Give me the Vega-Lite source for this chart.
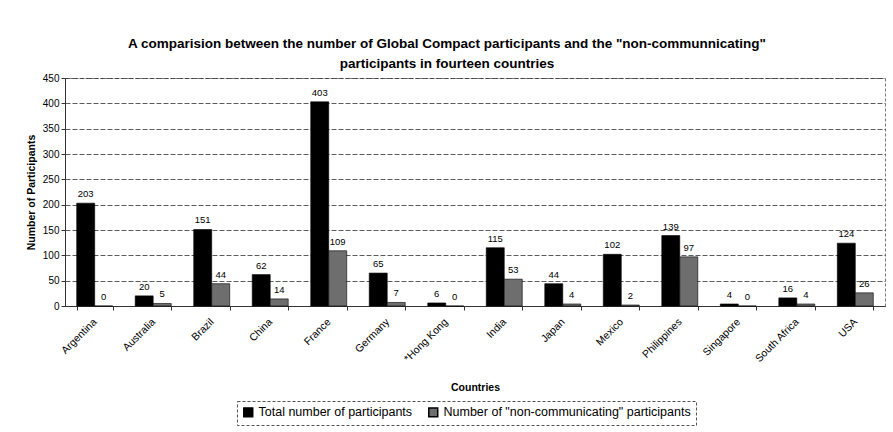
{
  "$schema": "https://vega.github.io/schema/vega-lite/v6.json",
  "width": 820,
  "height": 228,
  "autosize": {"type": "none"},
  "padding": {"left": 65, "top": 78, "right": 8, "bottom": 126},
  "background": "white",
  "config": {
    "font": "Liberation Sans",
    "view": {"stroke": "#777", "strokeDash": [3, 2]}
  },
  "title": {
    "text": ["A comparision between the number of Global Compact participants and the \"non-communnicating\"", "participants in fourteen countries"],
    "fontSize": 13.5,
    "fontWeight": "bold",
    "anchor": "middle",
    "dx": -28,
    "offset": 3,
    "lineHeight": 20,
    "color": "black"
  },
  "data": {
    "values": [
      {"country": "Argentina", "series": "Total number of participants", "value": 203},
      {"country": "Argentina", "series": "Number of \"non-communicating\" participants", "value": 0},
      {"country": "Australia", "series": "Total number of participants", "value": 20},
      {"country": "Australia", "series": "Number of \"non-communicating\" participants", "value": 5},
      {"country": "Brazil", "series": "Total number of participants", "value": 151},
      {"country": "Brazil", "series": "Number of \"non-communicating\" participants", "value": 44},
      {"country": "China", "series": "Total number of participants", "value": 62},
      {"country": "China", "series": "Number of \"non-communicating\" participants", "value": 14},
      {"country": "France", "series": "Total number of participants", "value": 403},
      {"country": "France", "series": "Number of \"non-communicating\" participants", "value": 109},
      {"country": "Germany", "series": "Total number of participants", "value": 65},
      {"country": "Germany", "series": "Number of \"non-communicating\" participants", "value": 7},
      {"country": "*Hong Kong", "series": "Total number of participants", "value": 6},
      {"country": "*Hong Kong", "series": "Number of \"non-communicating\" participants", "value": 0},
      {"country": "India", "series": "Total number of participants", "value": 115},
      {"country": "India", "series": "Number of \"non-communicating\" participants", "value": 53},
      {"country": "Japan", "series": "Total number of participants", "value": 44},
      {"country": "Japan", "series": "Number of \"non-communicating\" participants", "value": 4},
      {"country": "Mexico", "series": "Total number of participants", "value": 102},
      {"country": "Mexico", "series": "Number of \"non-communicating\" participants", "value": 2},
      {"country": "Philippines", "series": "Total number of participants", "value": 139},
      {"country": "Philippines", "series": "Number of \"non-communicating\" participants", "value": 97},
      {"country": "Singapore", "series": "Total number of participants", "value": 4},
      {"country": "Singapore", "series": "Number of \"non-communicating\" participants", "value": 0},
      {"country": "South Africa", "series": "Total number of participants", "value": 16},
      {"country": "South Africa", "series": "Number of \"non-communicating\" participants", "value": 4},
      {"country": "USA", "series": "Total number of participants", "value": 124},
      {"country": "USA", "series": "Number of \"non-communicating\" participants", "value": 26}
    ]
  },
  "encoding": {
    "x": {
      "field": "country",
      "type": "nominal",
      "sort": null,
      "scale": {"paddingInner": 0.385},
      "axis": {
        "title": "Countries",
        "titleFontSize": 10.5,
        "titleFontWeight": "bold",
        "titleColor": "black",
        "titleY": 76,
        "labelAngle": -45,
        "labelAlign": "right",
        "labelBaseline": "middle",
        "labelFontSize": 10.5,
        "labelColor": "black",
        "labelPadding": 10,
        "tickBand": "extent",
        "tickColor": "#333",
        "tickSize": 4,
        "domainColor": "#333"
      }
    },
    "xOffset": {
      "field": "series",
      "type": "nominal",
      "sort": ["Total number of participants", "Number of \"non-communicating\" participants"]
    },
    "y": {
      "field": "value",
      "type": "quantitative",
      "scale": {"domain": [0, 450]},
      "axis": {
        "title": "Number of Participants",
        "titleFontSize": 10.5,
        "titleFontWeight": "bold",
        "titleColor": "black",
        "titlePadding": 6,
        "values": [0, 50, 100, 150, 200, 250, 300, 350, 400, 450],
        "labelFontSize": 10,
        "labelColor": "black",
        "tickColor": "#333",
        "tickSize": 4,
        "domainColor": "#333",
        "gridColor": "#333",
        "gridDash": [5, 2],
        "gridWidth": 0.8
      }
    }
  },
  "layer": [
    {
      "mark": {"type": "bar", "stroke": "black", "strokeWidth": 0.6},
      "encoding": {
        "color": {
          "field": "series",
          "type": "nominal",
          "scale": {
            "domain": ["Total number of participants", "Number of \"non-communicating\" participants"],
            "range": ["#000000", "#6e6e6e"]
          },
          "legend": {
            "title": null,
            "orient": "none",
            "legendX": 172,
            "legendY": 323,
            "direction": "horizontal",
            "labelFontSize": 12.5,
            "labelColor": "black",
            "symbolType": "square",
            "symbolSize": 80,
            "symbolStrokeColor": "black",
            "columnPadding": 12,
            "padding": 5,
            "strokeColor": "#555",
            "labelLimit": 400,
            "encode": {"legend": {"update": {"strokeDash": {"value": [3, 2]}}}}
          }
        }
      }
    },
    {
      "mark": {"type": "text", "baseline": "bottom", "dy": -4, "fontSize": 9.5, "color": "black"},
      "encoding": {
        "text": {"field": "value", "type": "quantitative"}
      }
    }
  ]
}
